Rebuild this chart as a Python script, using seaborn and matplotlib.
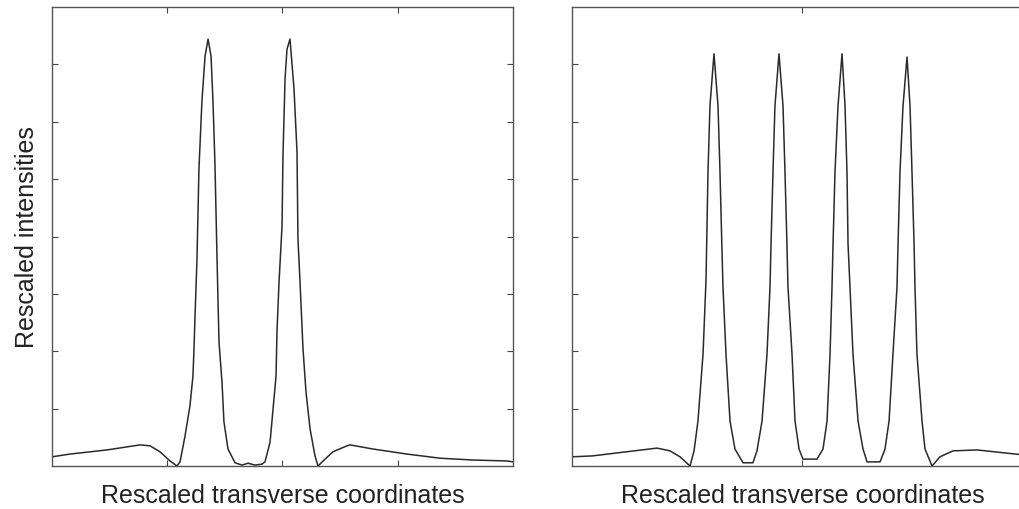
import matplotlib
matplotlib.use("Agg")
import matplotlib.pyplot as plt
import seaborn as sns
import pandas as pd

# Left panel: two-peak profile
left_x = [-2.000, -1.844, -1.523, -1.236, -1.150, -1.063, -0.976, -0.915,
          -0.889, -0.846, -0.803, -0.777, -0.768, -0.759, -0.742, -0.725,
          -0.699, -0.672, -0.646, -0.620, -0.603, -0.586, -0.568, -0.551,
          -0.525, -0.508, -0.473, -0.412, -0.351, -0.299, -0.239, -0.178,
          -0.152, -0.108, -0.082, -0.056, -0.048, -0.030, -0.004, 0.004,
          0.022, 0.039, 0.065, 0.100, 0.126, 0.134, 0.152, 0.178,
          0.204, 0.239, 0.282, 0.308, 0.369, 0.438, 0.560, 0.586,
          0.785, 1.080, 1.367, 1.653, 1.948, 2.000]
left_y = [0.020, 0.026, 0.035, 0.046, 0.044, 0.031, 0.011, 0.000,
          0.009, 0.065, 0.131, 0.196, 0.255, 0.327, 0.451, 0.647,
          0.795, 0.893, 0.930, 0.893, 0.793, 0.658, 0.451, 0.270,
          0.183, 0.096, 0.037, 0.007, 0.002, 0.006, 0.002, 0.004,
          0.009, 0.052, 0.124, 0.196, 0.292, 0.401, 0.523, 0.675,
          0.843, 0.908, 0.930, 0.821, 0.684, 0.495, 0.401, 0.255,
          0.161, 0.081, 0.022, 0.000, 0.015, 0.031, 0.044, 0.046,
          0.037, 0.026, 0.017, 0.013, 0.011, 0.009]

# Right panel: four-peak profile
right_x = [-2.000, -1.822, -1.527, -1.262, -1.150, -1.063, -0.976, -0.941,
           -0.907, -0.863, -0.837, -0.820, -0.803, -0.768, -0.733, -0.716,
           -0.699, -0.690, -0.664, -0.629, -0.586, -0.516, -0.430, -0.395,
           -0.351, -0.308, -0.282, -0.273, -0.256, -0.239, -0.204, -0.169,
           -0.152, -0.135, -0.126, -0.091, -0.065, -0.030, 0.004, 0.126,
           0.178, 0.213, 0.239, 0.256, 0.265, 0.282, 0.308, 0.343,
           0.369, 0.386, 0.395, 0.412, 0.438, 0.482, 0.525, 0.560,
           0.673, 0.716, 0.751, 0.785, 0.820, 0.829, 0.846, 0.872,
           0.907, 0.933, 0.950, 0.968, 0.976, 0.993, 1.037, 1.063,
           1.124, 1.193, 1.306, 1.514, 1.774, 2.000]
right_y = [0.020, 0.022, 0.031, 0.039, 0.033, 0.020, 0.000, 0.033,
           0.098, 0.244, 0.407, 0.641, 0.784, 0.898, 0.784, 0.641,
           0.473, 0.390, 0.244, 0.098, 0.037, 0.007, 0.007, 0.033,
           0.098, 0.244, 0.390, 0.484, 0.641, 0.784, 0.898, 0.784,
           0.641, 0.484, 0.390, 0.244, 0.098, 0.037, 0.015, 0.015,
           0.037, 0.098, 0.244, 0.390, 0.484, 0.641, 0.784, 0.898,
           0.784, 0.641, 0.484, 0.390, 0.244, 0.098, 0.037, 0.009,
           0.009, 0.037, 0.098, 0.244, 0.390, 0.484, 0.641, 0.784,
           0.891, 0.784, 0.641, 0.484, 0.390, 0.244, 0.098, 0.037,
           0.000, 0.020, 0.033, 0.035, 0.028, 0.022]

x_label = "Rescaled transverse coordinates"
y_label = "Rescaled intensities"
y_ticks = [k / 8 for k in range(1, 8)]
left_x_ticks = [-1, 0, 1]
right_x_ticks = [0]

sns.set_style("white")
plt.rcParams['font.family'] = ['Liberation Sans', 'DejaVu Sans']

fig = plt.figure(figsize=(10.2, 5.1), dpi=100)
ax1 = fig.add_axes([52 / 1020, 43 / 510, 461 / 1020, 459 / 510])
ax2 = fig.add_axes([572 / 1020, 43 / 510, 461 / 1020, 459 / 510])

panels = [
    (ax1, left_x, left_y, left_x_ticks),
    (ax2, right_x, right_y, right_x_ticks),
]
for ax, xs, ys, xt in panels:
    df = pd.DataFrame({"x": xs, "y": ys})
    sns.lineplot(data=df, x="x", y="y", ax=ax, color="#2a2a2a",
                 linewidth=1.1, estimator=None, sort=False)
    ax.set_xlim(-2, 2)
    ax.set_ylim(0, 1)
    ax.set_xticks(xt)
    ax.set_yticks(y_ticks)
    ax.tick_params(direction="in", length=4, width=0.8, color="#444444",
                   top=True, right=True, bottom=True, left=True,
                   labelbottom=False, labelleft=False)
    for s in ax.spines.values():
        s.set_color("#555555")
        s.set_linewidth(1.0)
        s.set_visible(True)
    ax.set_xlabel(x_label, fontsize=18, color="#222222", labelpad=12)
    ax.set_ylabel("")

ax1.set_ylabel(y_label, fontsize=18, color="#222222", labelpad=9)

fig.savefig("out.png", dpi=100)
